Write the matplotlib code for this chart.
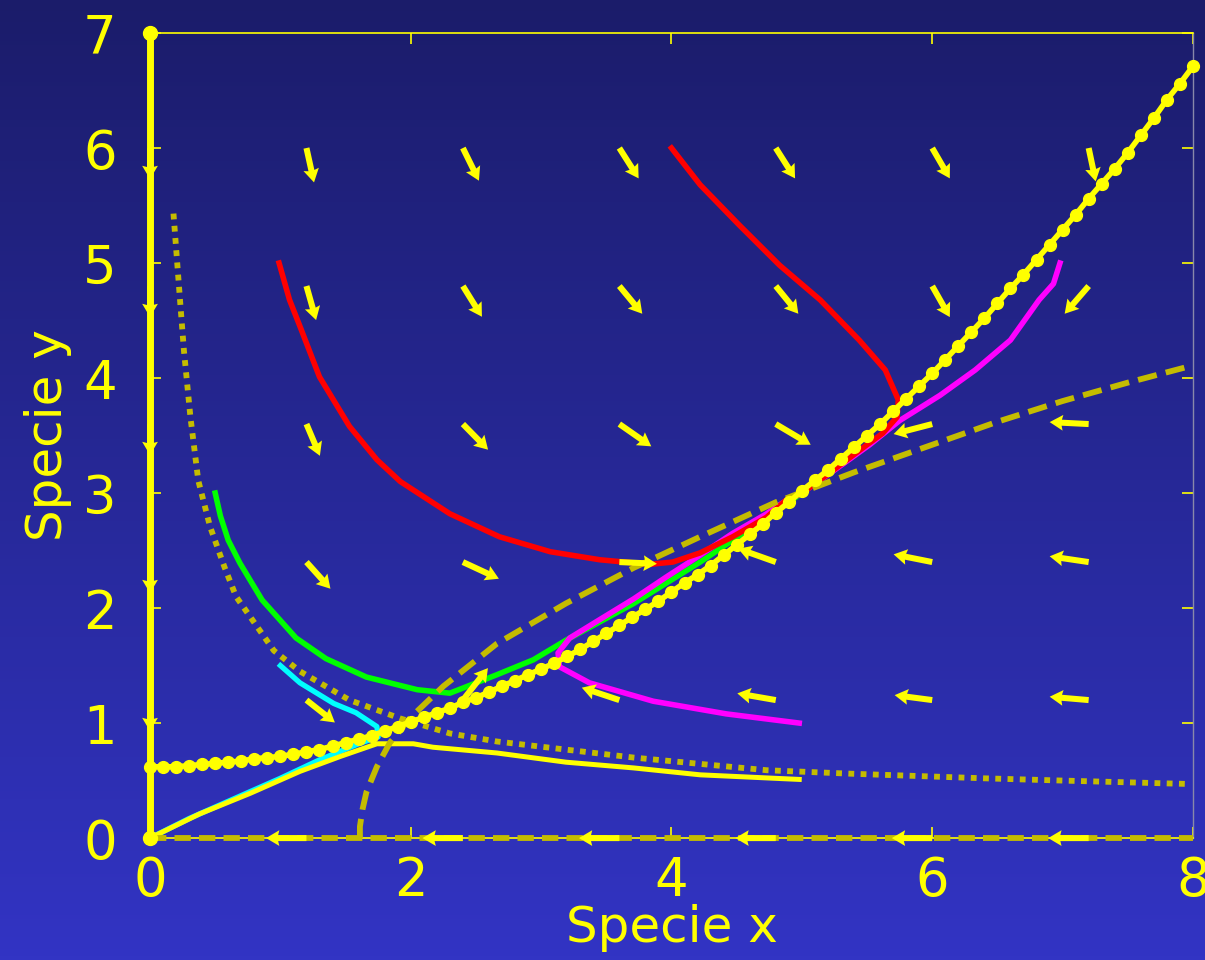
import numpy as np
import matplotlib
matplotlib.use("Agg")
import matplotlib.pyplot as plt

# --- data ---
# separatrix through the saddle (2,1), sampled every 0.1 in x
sep_x = np.round(np.arange(0, 8.01, 0.1), 1)
sep_y = [0.62, 0.62, 0.62, 0.63, 0.64, 0.65, 0.66, 0.67, 0.69, 0.70,
         0.71, 0.73, 0.75, 0.77, 0.80, 0.83, 0.86, 0.89, 0.93, 0.97,
         1.01, 1.05, 1.09, 1.13, 1.18, 1.22, 1.27, 1.32, 1.37, 1.42,
         1.47, 1.52, 1.58, 1.64, 1.71, 1.78, 1.85, 1.92, 1.99, 2.06,
         2.14, 2.22, 2.29, 2.37, 2.46, 2.55, 2.64, 2.73, 2.83, 2.92,
         3.02, 3.11, 3.20, 3.30, 3.40, 3.50, 3.60, 3.71, 3.82, 3.93,
         4.04, 4.16, 4.28, 4.40, 4.52, 4.65, 4.78, 4.90, 5.03, 5.16,
         5.29, 5.42, 5.56, 5.69, 5.82, 5.96, 6.11, 6.26, 6.42, 6.56, 6.71]

# nullclines
dash_x = [1.61, 1.61, 1.63, 1.66, 1.74, 1.84, 2.0, 2.25, 2.66, 3.19, 3.71, 4.22, 4.8, 5.4, 6.0, 6.5, 7.0, 7.5, 8.0]
dash_y = [0.0, 0.1, 0.25, 0.4, 0.62, 0.83, 1.05, 1.32, 1.69, 2.04, 2.35, 2.62, 2.92, 3.18, 3.42, 3.62, 3.80, 3.96, 4.11]
dot_x = [0.18, 0.23, 0.26, 0.31, 0.37, 0.46, 0.57, 0.66, 0.95, 1.15, 1.53, 1.92, 2.30, 2.66, 3.71, 4.73, 5.37, 6.39, 7.0, 7.98]
dot_y = [5.43, 4.68, 4.24, 3.66, 3.11, 2.71, 2.36, 2.10, 1.63, 1.45, 1.20, 1.04, 0.91, 0.84, 0.70, 0.59, 0.56, 0.52, 0.50, 0.47]

# trajectories
red1_x = [0.99, 1.07, 1.15, 1.30, 1.53, 1.74, 1.92, 2.30, 2.68, 3.07, 3.45, 3.83, 4.01, 4.22, 4.47, 4.73, 4.88, 5.0]
red1_y = [5.0, 4.68, 4.45, 4.01, 3.58, 3.29, 3.10, 2.82, 2.62, 2.49, 2.42, 2.38, 2.40, 2.48, 2.62, 2.79, 2.94, 3.0]
red2_x = [4.0, 4.22, 4.52, 4.83, 5.14, 5.44, 5.64, 5.74, 5.73, 5.62, 5.5, 5.3, 5.1, 5.0]
red2_y = [6.0, 5.68, 5.33, 4.98, 4.68, 4.33, 4.07, 3.81, 3.66, 3.52, 3.42, 3.25, 3.08, 3.0]
mag1_x = [6.98, 6.93, 6.82, 6.6, 6.33, 6.06, 5.75, 5.52, 5.25, 5.0]
mag1_y = [5.0, 4.82, 4.68, 4.33, 4.07, 3.85, 3.63, 3.42, 3.2, 3.0]
mag2_x = [4.98, 4.42, 3.86, 3.37, 3.14, 3.13, 3.22, 3.45, 3.71, 3.96, 4.22, 4.47, 4.73, 4.86, 5.0]
mag2_y = [1.0, 1.08, 1.19, 1.35, 1.49, 1.61, 1.74, 1.90, 2.08, 2.27, 2.46, 2.65, 2.82, 2.92, 3.0]
grn_x = [0.50, 0.54, 0.60, 0.69, 0.78, 0.86, 1.12, 1.35, 1.66, 2.05, 2.30, 2.66, 2.94, 3.19, 3.71, 4.22, 4.47, 4.75, 5.0]
grn_y = [3.0, 2.80, 2.59, 2.39, 2.22, 2.07, 1.74, 1.56, 1.40, 1.29, 1.26, 1.42, 1.55, 1.72, 2.04, 2.40, 2.59, 2.80, 3.0]
cyn_x = [1.0, 1.15, 1.41, 1.58, 1.74, 1.75, 1.6, 1.3, 1.0, 0.6, 0.3, 0.0]
cyn_y = [1.5, 1.35, 1.17, 1.09, 0.97, 0.88, 0.82, 0.68, 0.52, 0.32, 0.17, 0.0]
yel_x = [0.0, 0.38, 0.77, 1.15, 1.46, 1.74, 2.02, 2.17, 2.66, 3.19, 3.71, 4.22, 4.60, 4.98]
yel_y = [0.0, 0.21, 0.39, 0.58, 0.71, 0.82, 0.82, 0.79, 0.74, 0.66, 0.61, 0.55, 0.53, 0.51]

# direction field: grid rows y = 1.2 .. 6.0, columns x = 1.2 .. 7.2
qx = [1.2, 2.4, 3.6, 4.8, 6.0, 7.2]
qy = [1.2, 2.4, 3.6, 4.8, 6.0]
qu = [[0.218, 0.192, -0.288, -0.295, -0.288, -0.299],
      [0.184, 0.276, 0.288, -0.288, -0.296, -0.299],
      [0.103, 0.193, 0.245, 0.268, -0.296, -0.299],
      [0.074, 0.146, 0.176, 0.173, 0.135, -0.184],
      [0.058, 0.123, 0.148, 0.148, 0.135, 0.054]]
qv = [[-0.195, 0.278, 0.108, 0.058, 0.043, 0.029],
      [-0.232, -0.145, -0.015, 0.116, 0.067, 0.050],
      [-0.276, -0.223, -0.194, -0.180, -0.087, 0.017],
      [-0.296, -0.267, -0.241, -0.241, -0.270, -0.241],
      [-0.299, -0.284, -0.264, -0.264, -0.264, -0.290]]
# arrows on the axes (invariant lines)
ax0_u = [-0.31, -0.31, -0.31, -0.31, -0.31, -0.31]   # along y = 0
ay0_v = [-0.27, -0.27, -0.27, -0.27, -0.27]          # along x = 0

YEL = "#ffff00"
OLIVE = "#c4bc00"

fig = plt.figure(figsize=(12.05, 9.6), dpi=100)

# gradient background
bg = fig.add_axes([0, 0, 1, 1], zorder=-10)
grad = np.linspace(0, 1, 256).reshape(-1, 1)
cmap = matplotlib.colors.LinearSegmentedColormap.from_list("bg", ["#1b1c6a", "#3234c4"])
bg.imshow(grad, aspect="auto", cmap=cmap, extent=[0, 1, 1, 0])
bg.set_axis_off()

ax = fig.add_axes([0.1245, 0.127, 0.8655, 0.8386])
ax.set_facecolor("none")
ax.set_xlim(0, 8)
ax.set_ylim(0, 7)

# quiver field
X, Y = np.meshgrid(qx, qy)
qkw = dict(angles="xy", scale_units="xy", scale=1, color=YEL, width=0.0058,
           headwidth=2.6, headlength=2.2, headaxislength=2.0, zorder=6)
ax.quiver(X, Y, np.array(qu), np.array(qv), **qkw)
ax.quiver(qx, np.zeros(len(qx)), ax0_u, np.zeros(len(qx)), clip_on=False, **qkw)
ax.quiver(np.zeros(len(qy)), qy, np.zeros(len(qy)), ay0_v, clip_on=False, **qkw)

# nullclines
ax.plot([0, 8], [0, 0], color=OLIVE, lw=4.2, dashes=(2.8, 1.4), zorder=4, clip_on=False)
ax.plot(dash_x, dash_y, color=OLIVE, lw=4.2, dashes=(3.3, 1.6), zorder=4)
ax.plot(dot_x, dot_y, color=OLIVE, lw=4.2, dashes=(1, 1.1), zorder=4)

# trajectories
ax.plot(cyn_x, cyn_y, color="#00ffff", lw=3.8, zorder=3)
ax.plot(yel_x, yel_y, color=YEL, lw=3.6, zorder=3.5)
ax.plot(grn_x, grn_y, color="#00ff00", lw=4.0, zorder=3)
ax.plot(mag2_x, mag2_y, color="#ff00ff", lw=4.0, zorder=3)
ax.plot(mag1_x, mag1_y, color="#ff00ff", lw=4.0, zorder=3)
ax.plot(red1_x, red1_y, color="#ff0000", lw=4.0, zorder=3.2)
ax.plot(red2_x, red2_y, color="#ff0000", lw=4.0, zorder=3.2)

# separatrix with dots
ax.plot(sep_x, sep_y, color=YEL, lw=4.0, marker="o", ms=8.5, zorder=5, clip_on=False)
# invariant y-axis trajectory
ax.plot([0, 0], [0, 7], color=YEL, lw=5, marker="o", ms=10, zorder=7, clip_on=False)

# frame
for s in ["top", "bottom"]:
    ax.spines[s].set_color(YEL)
    ax.spines[s].set_linewidth(1.2)
ax.spines["left"].set_visible(False)
ax.spines["right"].set_color("#8888aa")
ax.spines["right"].set_linewidth(1.0)

ax.set_xticks([0, 2, 4, 6, 8])
ax.set_yticks(range(8))
ax.tick_params(direction="in", length=8, width=1.2, color=YEL, labelcolor=YEL,
               labelsize=38, top=True, right=True)
ax.tick_params(axis="y", pad=24)
ax.tick_params(axis="x", pad=12)
for lab in ax.get_xticklabels() + ax.get_yticklabels():
    lab.set_clip_on(False)

ax.set_xlabel("Specie x", color=YEL, fontsize=36, labelpad=-2)
ax.set_ylabel("Specie y", color=YEL, fontsize=36, labelpad=8)

fig.savefig("out.png", dpi=100)
